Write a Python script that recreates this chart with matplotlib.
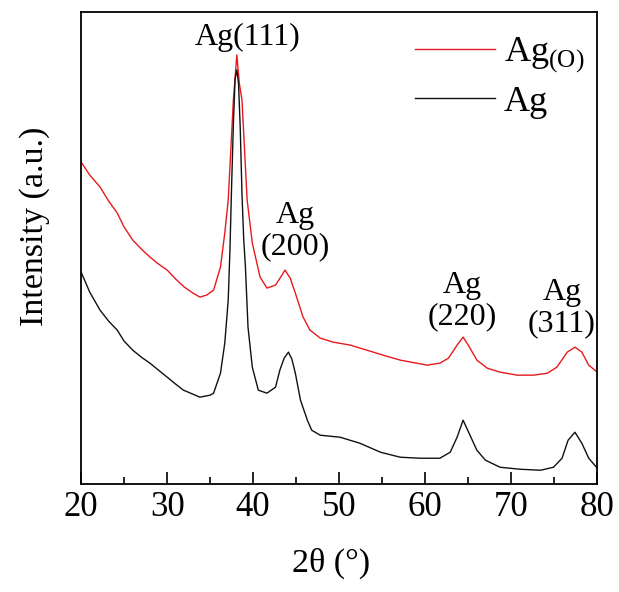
import matplotlib
matplotlib.use('Agg')
import matplotlib.pyplot as plt
from matplotlib.ticker import MultipleLocator, NullLocator

plt.rcParams['font.family'] = ['Liberation Serif', 'DejaVu Serif']
plt.rcParams['mathtext.fontset'] = 'custom'
plt.rcParams['mathtext.rm'] = 'Liberation Serif'

# traced XRD patterns (2theta in degrees, intensity in arbitrary units)
two_theta_ag = [20.0, 21.0, 22.2, 23.2, 24.2, 25.0, 26.0, 27.0, 28.0, 29.0, 30.0, 31.0, 31.9,
                33.0, 33.8, 35.0, 35.4, 36.2, 36.7, 37.1, 37.3, 37.5, 37.7, 37.9, 38.1,
                38.3, 38.5, 38.7, 38.9, 39.1, 39.4, 39.9, 40.6, 41.6, 42.6, 43.1, 43.6,
                44.1, 44.5, 44.9, 45.5, 46.3, 46.8, 47.8, 50.1, 52.4, 54.8, 57.1, 59.4,
                61.7, 62.9, 63.7, 64.4, 65.2, 66.0, 67.0, 68.7, 71.0, 73.4, 74.9, 75.9,
                76.6, 77.4, 78.2, 79.0, 80.0]
intensity_ag = [212, 192, 174, 163, 154, 143, 134, 127, 121, 114, 107, 100, 94,
                90, 87, 89, 91, 111, 141, 184, 234, 300, 360, 405, 414,
                400, 355, 290, 245, 217, 157, 117, 94, 91, 97, 114, 126,
                132, 125, 111, 84, 64, 54, 49, 47, 41, 32, 27, 26,
                26, 32, 47, 64, 49, 34, 24, 17, 15, 14, 17, 26,
                44, 52, 41, 26, 16]

two_theta_ago = [20.0, 21.0, 22.2, 23.2, 24.2, 25.0, 26.0, 27.0, 28.0, 29.0, 30.0, 31.0, 32.0,
                 33.0, 33.8, 34.6, 35.4, 36.2, 36.7, 37.1, 37.3, 37.7, 38.1, 38.4, 38.7,
                 39.1, 39.3, 39.9, 40.8, 41.6, 42.6, 43.2, 43.7, 44.3, 44.9, 45.8, 46.6,
                 47.8, 49.3, 51.3, 53.2, 55.1, 57.1, 59.0, 60.2, 61.7, 62.7, 63.7, 64.4,
                 65.0, 66.0, 67.2, 68.7, 70.7, 72.6, 74.2, 75.3, 76.5, 77.4, 78.2, 79.0,
                 80.0]
intensity_ago = [322, 309, 297, 283, 271, 257, 244, 235, 227, 220, 214, 205, 197,
                 191, 187, 189, 194, 217, 251, 284, 317, 384, 429, 400, 384,
                 317, 284, 241, 207, 196, 199, 207, 214, 206, 191, 167, 154,
                 146, 142, 139, 134, 129, 124, 121, 119, 121, 126, 139, 147,
                 139, 124, 116, 112, 109, 109, 111, 117, 132, 137, 132, 119,
                 112]

series = [('Ag$_{\\mathrm{(O)}}$', two_theta_ago, intensity_ago, '#e8191d'),
          ('Ag', two_theta_ag, intensity_ag, '#111111')]

peak_labels = ['Ag(111)', 'Ag\n(200)', 'Ag\n(220)', 'Ag\n(311)']
peak_label_x = [39.3, 44.9, 64.3, 75.9]
peak_label_y = [446, 253, 183, 176]

fig = plt.figure(figsize=(6.19, 5.92), dpi=100)
ax = fig.add_axes([0.131, 0.182, 0.834, 0.798])

for name, x, y, col in series:
    ax.plot(x, y, color=col, lw=1.0, label=name)

for txt, lx, ly in zip(peak_labels, peak_label_x, peak_label_y):
    ax.text(lx, ly, txt, ha='center', va='center', fontsize=23, linespacing=1.1)

ax.set_xlim(20, 80)
ax.set_ylim(0, 472)
ax.xaxis.set_major_locator(MultipleLocator(10))
ax.xaxis.set_minor_locator(MultipleLocator(5))
ax.yaxis.set_major_locator(NullLocator())
ax.tick_params(axis='x', which='major', direction='in', length=9, width=1.2, labelsize=25, pad=5)
ax.tick_params(axis='x', which='minor', direction='in', length=5, width=1.2)
ax.tick_params(top=False, which='both')
for sp in ax.spines.values():
    sp.set_linewidth(1.3)

ax.set_xlabel('2θ (°)', fontsize=24.5)
ax.set_ylabel('Intensity (a.u.)', fontsize=24.5)
ax.xaxis.set_label_coords(0.484, -0.135)
ax.yaxis.set_label_coords(-0.06, 0.547)

leg = ax.legend(loc='upper right', bbox_to_anchor=(1.017, 0.996), frameon=False, fontsize=26,
                handlelength=2.2, handletextpad=0.25, labelspacing=0.3, borderaxespad=0.2)

fig.savefig('out.png', dpi=100)
